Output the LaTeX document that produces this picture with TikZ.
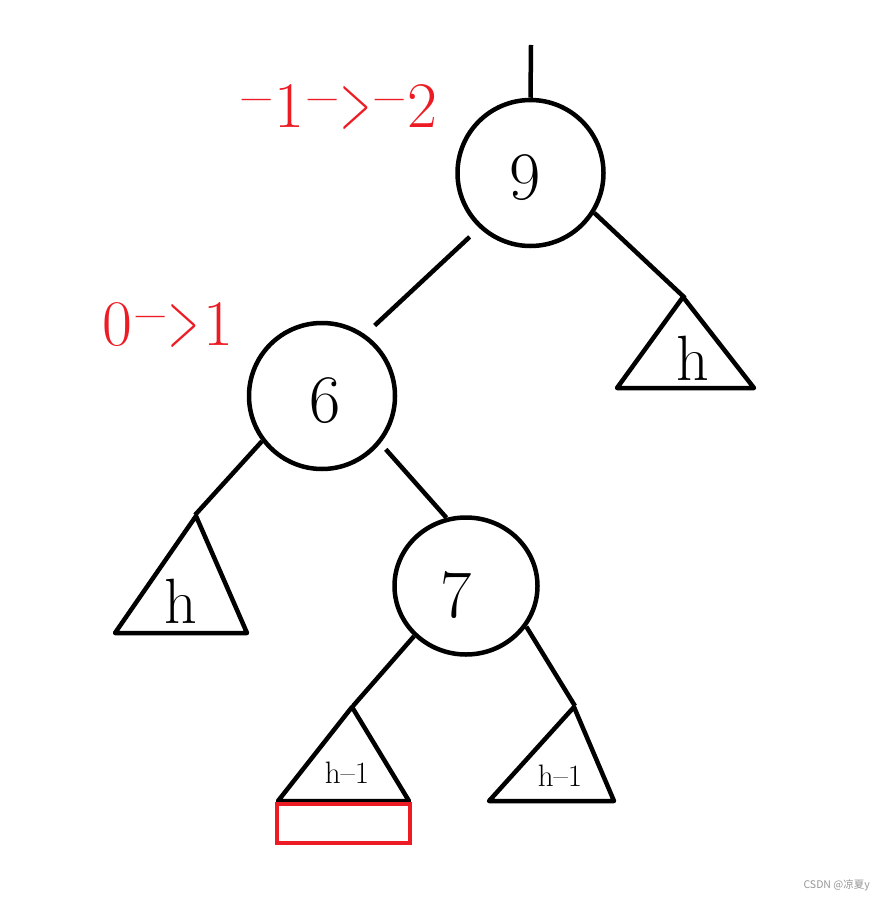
\documentclass[tikz,border=0pt]{standalone}
\usepackage{fontspec}
\usepackage{graphicx}
\newfontfamily\cjkwm{Noto Sans CJK SC}
\usetikzlibrary{shapes.geometric,calc}
\definecolor{pred}{RGB}{237,28,36}
\definecolor{wmgray}{RGB}{150,150,150}
\newcommand\rdash{\raisebox{0.09em}{\scalebox{0.95}[1.3]{–}}\kern0.06em}
\newcommand\rgt{\scalebox{0.62}[1.2]{>}\kern0.06em}
\tikzset{
  edge/.style={line width=4.5pt},
  bnode/.style={draw, line width=4.5pt, inner sep=0pt},
  digit/.style={anchor=base, inner sep=0pt, font=\fontsize{68}{68}\selectfont},
  hlab/.style={anchor=base, inner sep=0pt, font=\fontsize{64}{64}\selectfont},
  hsmall/.style={anchor=base, inner sep=0pt, font=\fontsize{31}{31}\selectfont},
  rlab/.style={anchor=base, inner sep=0pt, text=pred, font=\fontsize{65}{65}\selectfont},
  tri/.style={line width=4.5pt, line join=round},
}
\begin{document}
\begin{tikzpicture}[x=1pt,y=-1pt]
\useasboundingbox (0,0) rectangle (886,901);
% nodes
\node[bnode, circle, minimum size=146pt] (n9) at (530.5,173) {};
\node[bnode, circle, minimum size=146pt] (n6) at (322,396) {};
\node[bnode, ellipse, minimum width=143pt, minimum height=137pt] (n7) at (466,586) {};
\node[digit] (t9) at (525,200) {9};
\node[digit] (t6) at (325,422) {6};
\node[digit] (t7) at (456,617) {7};
% root stub
\coordinate (top) at (531,45);
\draw[edge] (top) -- (n9.north);
% triangles
\coordinate (ra) at (683,297);
\coordinate (rl) at (617,388);
\coordinate (rr) at (754,388);
\coordinate (la) at (196,516);
\coordinate (ll) at (115,633);
\coordinate (lr) at (247,633);
\coordinate (ba) at (352,707);
\coordinate (bl) at (278,801);
\coordinate (br) at (409,801);
\coordinate (ca) at (574,707);
\coordinate (cl) at (489,801);
\coordinate (cr) at (614,801);
\draw[tri] (ra) -- (rl) -- (rr) -- cycle;
\draw[tri] (la) -- (ll) -- (lr) -- cycle;
\draw[tri] (ba) -- (bl) -- (br) -- cycle;
\draw[tri] (ca) -- (cl) -- (cr) -- cycle;
\node[hlab] (hr) at (693,380) {h};
\node[hlab] (hl) at (181,623) {h};
\node[hsmall] (hb) at (347,783) {h–1};
\node[hsmall] (hc) at (560,786) {h–1};
% connectors
\draw[edge, shorten <=13pt, shorten >=13pt] (n9.227) -- (n6.55);
\draw[edge] (n9.328) -- ($(ra)+(2,1)$);
\draw[edge] (n6.217) -- ($(la)+(-1,-1)$);
\draw[edge, shorten <=8pt] (n6.321) -- (n7.106);
\draw[edge] (n7.224) -- ($(ba)+(1,-1)$);
\draw[edge] (n7.326) -- ($(ca)+(1,-1)$);
% red box
\node[draw=pred, line width=4.5pt, minimum width=133pt, minimum height=39pt, inner sep=0pt] (box) at (343.5,823.5) {};
% red labels
\node[rlab] (l9) at (340,128) {\rdash1\kern0.06em\rdash\rgt\rdash2};
\node[rlab] (l6) at (168,345) {0\kern0.06em\rdash\rgt1};
% watermark
\node[anchor=base east, inner sep=0pt, text=wmgray, font=\cjkwm\fontsize{10.5}{10.5}\selectfont] (wm) at (870,888) {CSDN @凉夏y};
\end{tikzpicture}
\end{document}
